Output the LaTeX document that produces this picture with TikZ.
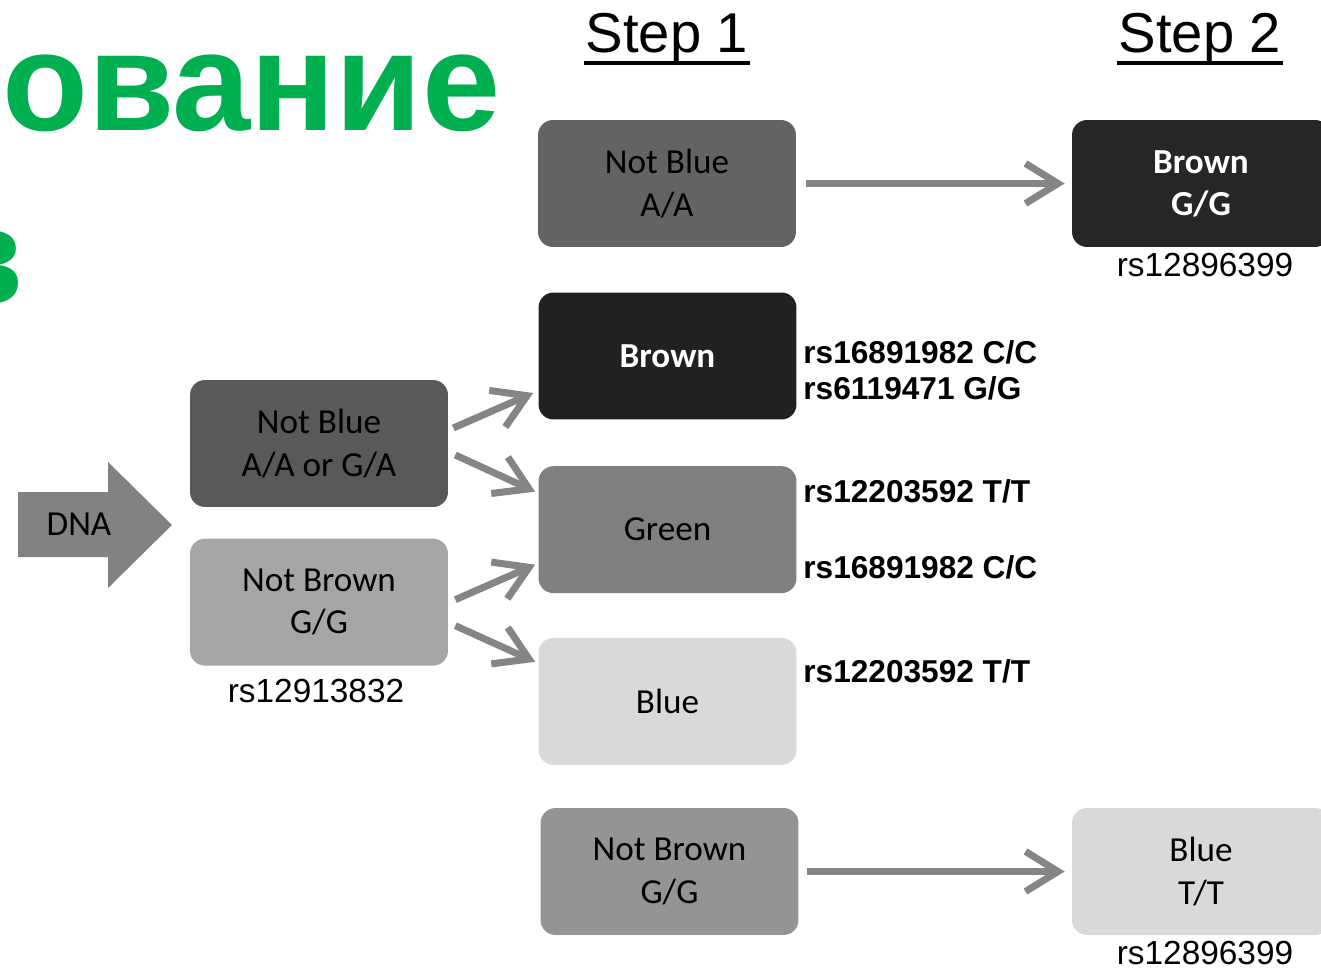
\documentclass[tikz,border=0pt]{standalone}
\usepackage{fontspec}
\setmainfont{Carlito}
\newfontfamily\arialfont{Liberation Sans}
\usetikzlibrary{arrows.meta,positioning,calc}
\definecolor{titlegreen}{HTML}{00B050}
\definecolor{arrgray}{HTML}{858585}

\begin{document}
\begin{tikzpicture}[
  x=0.02cm, y=-0.02cm,
  gbox/.style={rounded corners=0.3cm,align=center,minimum width=5.16cm,minimum height=2.54cm,
    font=\fontsize{20}{24}\selectfont},
  snp/.style={anchor=base west,inner sep=0pt,font=\arialfont\bfseries\fontsize{18}{18}\selectfont},
  rsid/.style={anchor=base,inner sep=0pt,font=\arialfont\fontsize{19}{19}\selectfont},
  steplbl/.style={anchor=base,inner sep=0pt,font=\arialfont\fontsize{32}{32}\selectfont},
  arr/.style={-{Straight Barb[length=6.5mm,width=8mm]},line width=4pt,arrgray}
]
  \useasboundingbox (0,0) rectangle (1321,969);

  % heading, cut by the page edge
  \node[anchor=base west,inner sep=0pt,text=titlegreen,
    font=\arialfont\bfseries\fontsize{80}{80}\selectfont] (ttl) at (2,131) {ование};
  \node[anchor=base east,inner sep=0pt,text=titlegreen,
    font=\arialfont\bfseries\fontsize{80}{80}\selectfont] (ttl2) at (24,305) {в};

  % step headers
  \node[steplbl] (s1) at (667,53) {Step 1};
  \node[steplbl] (s2) at (1200,53) {Step 2};
  \draw[line width=2.2pt] ($(s1.base west)+(-1,10)$) -- ($(s1.base east)+(1,10)$);
  \draw[line width=2.2pt] ($(s2.base west)+(-1,10)$) -- ($(s2.base east)+(1,10)$);

  % DNA input
  \fill[gray!98] (18,492) -- (108,492) -- (108,462) -- (172,525) -- (108,588)
    -- (108,557) -- (18,557) -- cycle;
  \node[font=\fontsize{20}{24}\selectfont] (dna) at (79,524) {DNA};

  % first column
  \node[gbox,fill=black!65] (nbl) at (319,443.5) {Not Blue\\A/A or G/A};
  \node[gbox,fill=black!35,below=0.62cm of nbl] (nbr) {Not Brown\\G/G};
  \node[rsid] (rs1) at (316,702) {rs12913832};

  % step 1
  \node[gbox,fill=black!61] (nba) at (667,183.5) {Not Blue\\A/A};
  \node[gbox,fill=black!87,text=white,font=\bfseries\fontsize{20}{24}\selectfont] (brown) at (667.5,356) {Brown};
  \node[gbox,fill=black!50,below=0.92cm of brown] (green) {Green};
  \node[gbox,fill=black!15,below=0.88cm of green] (blue) {Blue};
  \node[gbox,fill=black!42] (nbgg) at (669.5,871.5) {Not Brown\\G/G};

  \node[snp] (l1) at (803,363) {rs16891982 C/C};
  \node[snp] (l2) at (803,399) {rs6119471 G/G};
  \node[snp] (l3) at (803,502) {rs12203592 T/T};
  \node[snp] (l4) at (803,578) {rs16891982 C/C};
  \node[snp] (l5) at (803,682) {rs12203592 T/T};

  % step 2
  \node[gbox,fill=black!85,text=white,font=\bfseries\fontsize{20}{24}\selectfont] (brgg) at (1201,183.5) {Brown\\G/G};
  \node[rsid] (rs2) at (1205,277) {rs12896399};
  \node[gbox,fill=black!15] (bltt) at (1201,871.5) {Blue\\T/T};
  \node[rsid] (rs3) at (1205,964) {rs12896399};

  \draw[arr] ([shift={(5,-15.5)}]nbl.east) -- ([shift={(-5,37)}]brown.west);
  \draw[arr] ([shift={(7,11.5)}]nbl.east) -- ([shift={(-3,-38)}]green.west);
  \draw[arr] ([shift={(7,-2.5)}]nbr.east) -- ([shift={(-3,35)}]green.west);
  \draw[arr] ([shift={(7,23.5)}]nbr.east) -- ([shift={(-3,-39.5)}]blue.west);
  \draw[arr] ([xshift=0.2cm]nba.east) -- ([xshift=-0.14cm]brgg.west);
  \draw[arr] ([xshift=0.16cm]nbgg.east) -- ([xshift=-0.14cm]bltt.west);
\end{tikzpicture}
\end{document}
